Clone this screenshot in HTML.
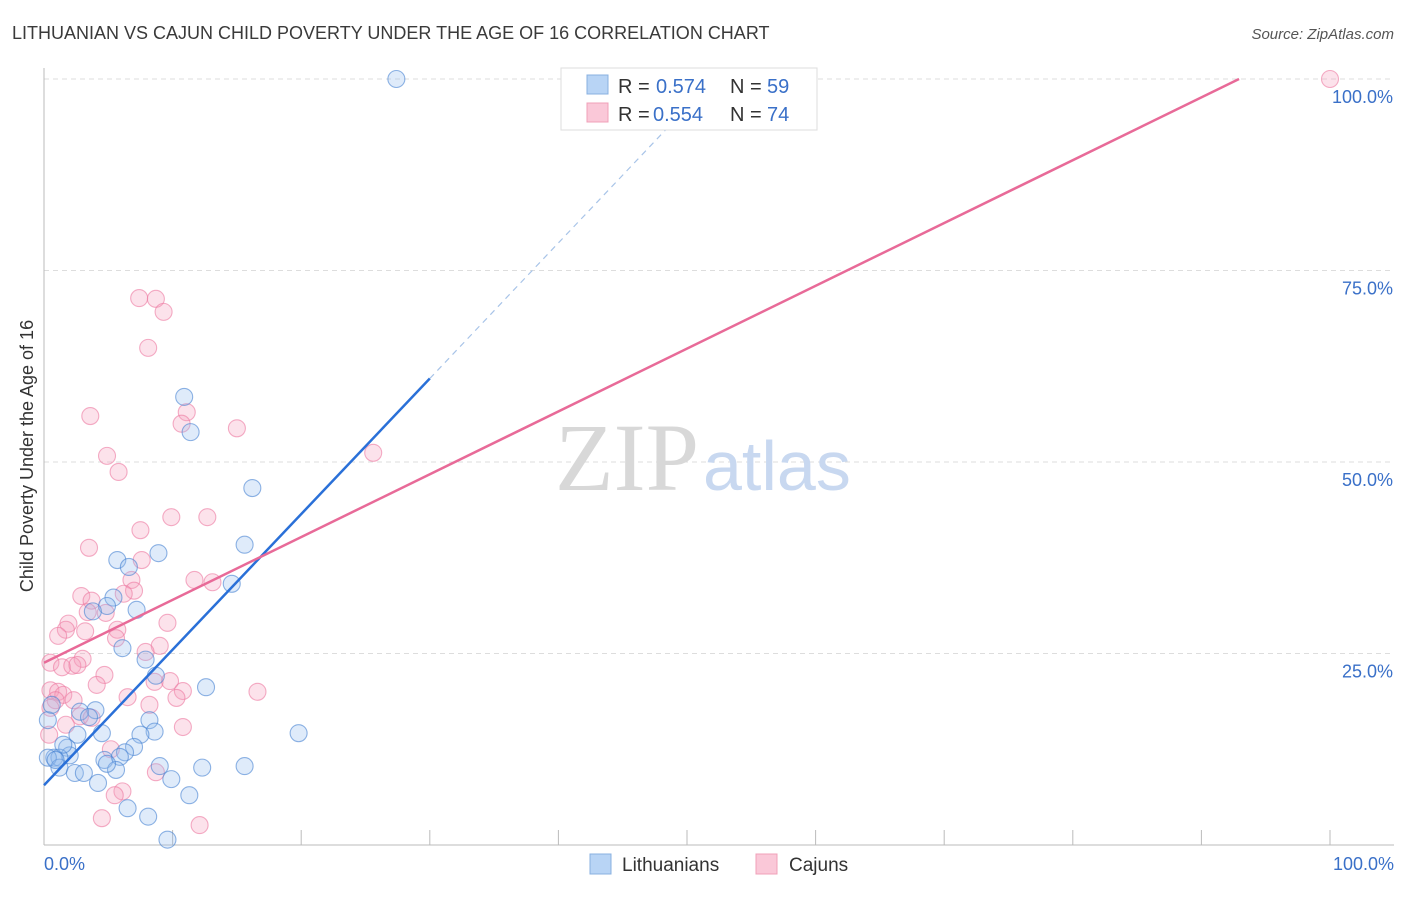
<!DOCTYPE html>
<html><head><meta charset="utf-8"><style>
body{margin:0;background:#fff;font-family:"Liberation Sans",sans-serif}
</style></head><body>
<svg id="chart" width="1406" height="892" viewBox="0 0 1406 892" xmlns="http://www.w3.org/2000/svg" font-family="Liberation Sans, sans-serif">
<text x="12" y="39" font-size="18" fill="#3a3a3a">LITHUANIAN VS CAJUN CHILD POVERTY UNDER THE AGE OF 16 CORRELATION CHART</text>
<text x="1394" y="39" font-size="15" fill="#555" text-anchor="end" font-style="italic">Source: ZipAtlas.com</text>
<text transform="translate(33,456) rotate(-90)" font-size="18" fill="#333" text-anchor="middle">Child Poverty Under the Age of 16</text>
<g id="grid"></g>
<text x="555" y="490" font-size="96"><tspan fill="#d8d8d8" font-family="Liberation Serif, serif">ZIP</tspan><tspan fill="#c8d8f0" font-size="70" dx="4">atlas</tspan></text>
<g id="pts"></g>
<g id="lines"></g>
<g>
<rect x="561" y="68" width="256" height="62" fill="#fff" stroke="#ddd"/>
<rect x="587" y="75" width="21" height="19" fill="#b8d4f5" stroke="#88b0e0"/>
<rect x="587" y="103" width="21" height="19" fill="#fac8d8" stroke="#f0a0b8"/>
<text x="618" y="93" font-size="20" fill="#333">R =</text>
<text x="656" y="93" font-size="20" fill="#3a70c8">0.574</text>
<text x="730" y="93" font-size="20" fill="#333">N =</text>
<text x="767" y="93" font-size="20" fill="#3a70c8">59</text>
<text x="618" y="121" font-size="20" fill="#333">R =</text>
<text x="653" y="121" font-size="20" fill="#3a70c8">0.554</text>
<text x="730" y="121" font-size="20" fill="#333">N =</text>
<text x="767" y="121" font-size="20" fill="#3a70c8">74</text>
</g>
<g>
<rect x="590" y="854" width="21" height="20" fill="#b8d4f5" stroke="#88b0e0"/>
<text x="622" y="871" font-size="19" fill="#333">Lithuanians</text>
<rect x="756" y="854" width="21" height="20" fill="#fac8d8" stroke="#f0a0b8"/>
<text x="789" y="871" font-size="19" fill="#333">Cajuns</text>
</g>
</svg>
<script>
const blueX=[27.4,10.9,11.4,16.2,15.6,8.9,5.7,6.6,14.6,5.4,4.9,7.2,3.8,6.1,7.9,8.7,12.6,4.0,2.8,3.5,8.2,19.8,2.6,4.5,8.6,7.5,1.8,7.0,6.3,2.0,0.8,1.2,0.3,4.7,5.9,9.0,15.6,1.2,12.3,5.6,2.4,3.1,4.9,9.9,4.2,11.3,6.5,8.1,9.6,0.9,1.5,0.3,0.6];
const blueY=[100,58.5,53.9,46.6,39.2,38.1,37.2,36.3,34.1,32.3,31.2,30.7,30.5,25.7,24.2,22.1,20.6,17.6,17.4,16.7,16.3,14.6,14.4,14.6,14.8,14.4,12.7,12.8,12.1,11.7,11.4,11.4,11.4,11.1,11.5,10.3,10.3,10.1,10.1,9.8,9.4,9.4,10.6,8.6,8.1,6.5,4.8,3.7,0.7,11.1,13.1,16.3,18.3];
const pinkX=[100,7.4,8.7,9.3,8.1,3.6,11.1,10.7,15.0,25.6,4.9,5.8,9.9,12.7,7.5,3.5,7.6,6.8,11.7,13.1,7.0,6.2,2.9,3.7,3.4,4.8,1.9,1.7,9.6,3.2,5.7,1.1,5.6,9.0,7.9,3.0,0.5,1.4,2.2,2.6,4.7,4.1,8.6,9.8,16.6,10.8,10.3,6.5,0.5,1.1,1.5,0.9,2.3,0.5,8.2,2.8,3.7,10.8,5.2,8.7,6.1,5.5,4.5,12.1,1.7,0.4];
const pinkY=[100,71.4,71.3,69.6,64.9,56.0,56.5,55.0,54.4,51.2,50.8,48.7,42.8,42.8,41.1,38.8,37.2,34.6,34.6,34.3,33.2,32.8,32.5,31.9,30.4,30.3,28.9,28.1,29.0,27.9,28.1,27.3,27.0,26.0,25.2,24.3,23.8,23.2,23.4,23.5,22.2,20.9,21.3,21.4,20.0,20.1,19.2,19.3,20.2,20.0,19.6,18.9,18.9,17.9,18.3,16.8,16.6,15.4,12.5,9.5,7.0,6.5,3.5,2.6,15.7,14.4];
const blueFit=[7.8,1.77];
const pinkFit=[23.8,0.82];
const yTicks=[25,50,75,100];
const xTicks=[0,10,20,30,40,50,60,70,80,90,100];
const NS='http://www.w3.org/2000/svg';
const sx=v=>44+v*12.86, sy=v=>845-v*7.66;
function mk(tag,attrs,parent){const e=document.createElementNS(NS,tag);for(const k in attrs)e.setAttribute(k,attrs[k]);parent.appendChild(e);return e;}
const grid=document.getElementById('grid'),pts=document.getElementById('pts'),lines=document.getElementById('lines');
yTicks.forEach(t=>{
 const l=mk('line',{x1:44,x2:1394,y1:sy(t),y2:sy(t),stroke:'#ddd','stroke-dasharray':'5,4'},grid);
 
 
 const tx=mk('text',{x:1393,y:sy(t)+24,'font-size':18,fill:'#3a70c8','text-anchor':'end'},grid);
 tx.textContent=t.toFixed(1)+'%';
 
 
});
let ax=mk('line',{x1:44,x2:44,y1:68,y2:845,stroke:'#bbb'},grid);


ax=mk('line',{x1:44,x2:1394,y1:845,y2:845,stroke:'#bbb'},grid);


xTicks.forEach(t=>{
 const l=mk('line',{x1:sx(t),x2:sx(t),y1:830,y2:845,stroke:'#bbb'},grid);
 
 
});
[[0,'0.0%','start',44],[100,'100.0%','end',1394]].forEach(a=>{
 const tx=mk('text',{x:a[3],y:870,'font-size':18,fill:'#3a70c8','text-anchor':a[2]},grid);
 tx.textContent=a[1];
 
 
});
pinkX.forEach((x,i)=>{
 const c=mk('circle',{cx:sx(x),cy:sy(pinkY[i]),r:8.5,fill:'rgba(246,160,190,0.3)',stroke:'rgba(236,120,160,0.6)','stroke-width':1.1},pts);
 
 
});
blueX.forEach((x,i)=>{
 const c=mk('circle',{cx:sx(x),cy:sy(blueY[i]),r:8.5,fill:'rgba(150,190,240,0.3)',stroke:'rgba(70,130,210,0.6)','stroke-width':1.1},pts);
 
 
});
let ln=mk('line',{x1:sx(0),y1:sy(blueFit[0]),x2:sx(30),y2:sy(blueFit[0]+blueFit[1]*30),stroke:'#2a70d8','stroke-width':2.5},lines);


ln=mk('line',{x1:sx(30),y1:sy(blueFit[0]+blueFit[1]*30),x2:sx(50.5),y2:sy(blueFit[0]+blueFit[1]*50.5),stroke:'#a8c4e8','stroke-width':1.2,'stroke-dasharray':'6,5'},lines);


const pe=(100-pinkFit[0])/pinkFit[1];
ln=mk('line',{x1:sx(0),y1:sy(pinkFit[0]),x2:sx(pe),y2:sy(100),stroke:'#e86a98','stroke-width':2.5},lines);


</script>
</body></html>
